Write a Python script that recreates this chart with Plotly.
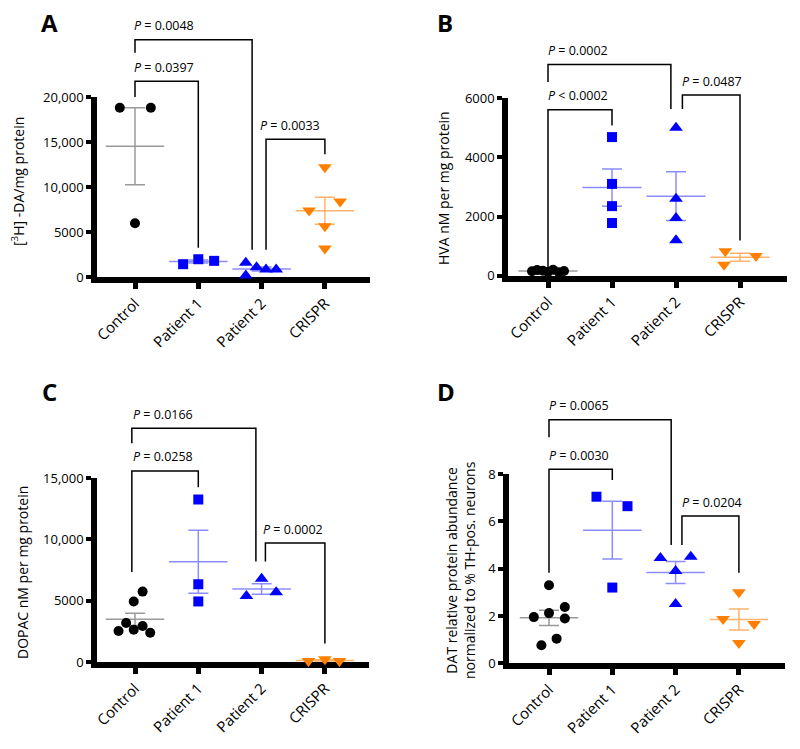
import numpy as np
import plotly.graph_objects as go

# ---------------- data ----------------
CATEGORIES = ["Control", "Patient 1", "Patient 2", "CRISPR"]

# Panel A: [3H]-DA uptake per mg protein
A_CONTROL = [18800, 18800, 6000]
A_PATIENT1 = [1450, 2000, 1820]
A_PATIENT2 = [1600, 200, 1100, 850, 850]
A_CRISPR = [12200, 8400, 7400, 5650, 3200]
A_YTICKS = [0, 5000, 10000, 15000, 20000]
A_YTICKTEXT = ["0", "5000", "10,000", "15,000", "20,000"]
A_PVALUES = ["<i>P</i> = 0.0397", "<i>P</i> = 0.0048", "<i>P</i> = 0.0033"]

# Panel B: HVA nM per mg protein
B_CONTROL = [150, 190, 170, 130, 200, 120, 160]
B_PATIENT1 = [4680, 3100, 2350, 1780]
B_PATIENT2 = [5000, 2600, 1950, 1200]
B_CRISPR = [830, 370, 670]
B_YTICKS = [0, 2000, 4000, 6000]
B_YTICKTEXT = ["0", "2000", "4000", "6000"]
B_PVALUES = ["<i>P</i> &lt; 0.0002", "<i>P</i> = 0.0002", "<i>P</i> = 0.0487"]

# Panel C: DOPAC nM per mg protein
C_CONTROL = [5750, 4950, 3200, 2550, 2650, 2950, 2400]
C_PATIENT1 = [13250, 6350, 4950]
C_PATIENT2 = [6800, 5400, 5700]
C_CRISPR = [100, 250, 100]
C_YTICKS = [0, 5000, 10000, 15000]
C_YTICKTEXT = ["0", "5000", "10,000", "15,000"]
C_PVALUES = ["<i>P</i> = 0.0258", "<i>P</i> = 0.0166", "<i>P</i> = 0.0002"]

# Panel D: DAT relative protein abundance
D_CONTROL = [3.30, 1.95, 2.12, 2.38, 1.89, 0.76, 1.04]
D_PATIENT1 = [7.04, 6.64, 3.20]
D_PATIENT2 = [4.45, 4.50, 3.90, 2.50]
D_CRISPR = [3.00, 1.87, 1.66, 0.86]
D_YTICKS = [0, 2, 4, 6, 8]
D_YTICKTEXT = ["0", "2", "4", "6", "8"]
D_PVALUES = ["<i>P</i> = 0.0030", "<i>P</i> = 0.0065", "<i>P</i> = 0.0204"]

# horizontal scatter (jitter) of the points, in category units
A_JITTER = [[-0.24, 0.25, 0.0], [-0.24, 0.0, 0.25],
            [-0.25, -0.25, -0.08, 0.07, 0.23], [0.0, 0.24, -0.25, 0.0, 0.0]]
B_JITTER = [[-0.25, -0.17, -0.08, 0.0, 0.08, 0.17, 0.25], [0, 0, 0, 0],
            [0, 0, 0, 0], [-0.23, -0.25, 0.25]]
C_JITTER = [[0.12, -0.02, -0.14, -0.26, -0.02, 0.12, 0.24], [0, 0, 0],
            [0.0, -0.24, 0.23], [-0.26, 0.0, 0.23]]
D_JITTER = [[0.0, -0.24, 0.0, 0.25, 0.25, -0.12, 0.12], [-0.25, 0.24, 0.0],
            [-0.24, 0.24, 0.0, 0.0], [0.0, -0.25, 0.24, 0.0]]

# significance brackets: (x left, x right, bar height, left-leg end, right-leg end, label dx)
A_BRACKETS = [(0.0, 1.0, 21750, 20000, 3280, -0.04),
              (0.0, 1.85, 26340, 24920, 3060, -0.04),
              (2.07, 3.0, 15300, 3060, 13660, -0.12)]
B_BRACKETS = [(0.0, 1.0, 5600, 230, 5070, -0.03),
              (0.0, 1.92, 7130, 6540, 5625, -0.03),
              (2.10, 3.0, 6100, 5625, 1190, -0.03)]
C_BRACKETS = [(-0.05, 1.0, 15580, 7355, 14250, -0.01),
              (-0.05, 1.91, 19060, 17830, 8200, -0.01),
              (2.06, 3.0, 9700, 8200, 1520, -0.07)]
D_BRACKETS = [(0.0, 1.0, 8.2, 3.83, 7.75, -0.03),
              (0.0, 1.93, 10.29, 9.55, 5.0, -0.03),
              (2.10, 3.0, 6.22, 5.0, 3.83, -0.03)]

# ---------------- style ----------------
W, H = 800, 749
FONT = "Open Sans"
SYMBOLS = ["circle", "square", "triangle-up", "triangle-down"]
SIZES = [10, 10, 12, 12]
COLORS = ["#000000", "#0000ff", "#0000ff", "#ff8000"]
ERR_COLORS = ["#9a9a9a", "#8c8cff", "#8c8cff", "#ffb26b"]
AXIS_LW = 5.5

# pixel layout of each panel: left, right, first category x, category step, top, zero line
SPEC_A = (97, 370, 135, 63.3, 97, 280)
SPEC_B = (508, 787, 548, 64.0, 98, 278.5)
SPEC_C = (97, 369, 135, 63.3, 478, 665)
SPEC_D = (509, 785, 549, 63.3, 474, 666)

fig = go.Figure()
layout = {}
shapes = []
annotations = []


def add_panel(n, groups, jitters, brackets, pvalues, yticks, yticktext, spec):
    xa = "x" if n == 1 else f"x{n}"
    ya = "y" if n == 1 else f"y{n}"
    left, right, cat0, step, top, zero = spec
    ytop = yticks[-1]
    bottom = zero - AXIS_LW / 2

    for i, (vals, jit) in enumerate(zip(groups, jitters)):
        v = np.asarray(vals, dtype=float)
        mean = v.mean()
        sem = v.std(ddof=1) / np.sqrt(len(v))
        fig.add_trace(go.Scatter(
            x=[i], y=[mean], xaxis=xa, yaxis=ya, mode="markers",
            marker=dict(symbol="line-ew", size=0.66 * step, color=ERR_COLORS[i],
                        line=dict(width=1.5, color=ERR_COLORS[i])),
            error_y=dict(type="data", array=[sem], width=10, thickness=1.5,
                         color=ERR_COLORS[i]),
            cliponaxis=False, hoverinfo="skip", showlegend=False))
        fig.add_trace(go.Scatter(
            x=[i + j for j in jit], y=v, xaxis=xa, yaxis=ya, mode="markers",
            marker=dict(symbol=SYMBOLS[i], size=SIZES[i], color=COLORS[i],
                        line=dict(width=0)),
            cliponaxis=False, name=CATEGORIES[i], showlegend=False))

    # brackets: x in category units, y as a fraction of the axis (0 .. top tick)
    for (x1, x2, yb, yl, yr, ldx), lab in zip(brackets, pvalues):
        path = (f"M {x1},{yl / ytop} L {x1},{yb / ytop} "
                f"L {x2},{yb / ytop} L {x2},{yr / ytop}")
        shapes.append(dict(type="path", path=path, xref=xa, yref=f"{ya} domain",
                           line=dict(color="black", width=1.5), layer="above"))
        annotations.append(dict(text=lab, xref=xa, yref=f"{ya} domain",
                                x=x1 + ldx, y=yb / ytop, xanchor="left",
                                yanchor="middle", yshift=14, showarrow=False,
                                font=dict(family=FONT, size=12.5, color="black")))

    layout["xaxis" if n == 1 else f"xaxis{n}"] = dict(
        domain=[left / W, right / W], anchor=ya, automargin=False,
        range=[-(cat0 - left) / step, (right - cat0) / step],
        tickmode="array", tickvals=[0, 1, 2, 3], ticktext=CATEGORIES,
        tickangle=-45, tickfont=dict(family=FONT, size=15, color="black"),
        showline=True, linewidth=AXIS_LW, linecolor="black",
        ticks="outside", ticklen=6, tickwidth=5, tickcolor="black",
        showgrid=False, zeroline=False, layer="below traces", fixedrange=True)
    layout["yaxis" if n == 1 else f"yaxis{n}"] = dict(
        domain=[1 - bottom / H, 1 - top / H], anchor=xa, automargin=False,
        range=[0, ytop], tickmode="array", tickvals=yticks, ticktext=yticktext,
        tickfont=dict(family=FONT, size=13, color="black"),
        showline=True, linewidth=AXIS_LW, linecolor="black",
        ticks="outside", ticklen=5, tickwidth=4, tickcolor="black",
        showgrid=False, zeroline=False, layer="below traces", fixedrange=True)


add_panel(1, [A_CONTROL, A_PATIENT1, A_PATIENT2, A_CRISPR], A_JITTER, A_BRACKETS,
          A_PVALUES, A_YTICKS, A_YTICKTEXT, SPEC_A)
add_panel(2, [B_CONTROL, B_PATIENT1, B_PATIENT2, B_CRISPR], B_JITTER, B_BRACKETS,
          B_PVALUES, B_YTICKS, B_YTICKTEXT, SPEC_B)
add_panel(3, [C_CONTROL, C_PATIENT1, C_PATIENT2, C_CRISPR], C_JITTER, C_BRACKETS,
          C_PVALUES, C_YTICKS, C_YTICKTEXT, SPEC_C)
add_panel(4, [D_CONTROL, D_PATIENT1, D_PATIENT2, D_CRISPR], D_JITTER, D_BRACKETS,
          D_PVALUES, D_YTICKS, D_YTICKTEXT, SPEC_D)

for letter, px, py in [("A", 49, 22), ("B", 445, 22), ("C", 49, 392), ("D", 446, 392)]:
    annotations.append(dict(text=f"<b>{letter}</b>", x=px / W, y=1 - py / H,
                            xref="paper", yref="paper", showarrow=False,
                            xanchor="center", yanchor="middle",
                            font=dict(family=FONT, size=24, color="black")))

for title, px, py in [("[<sup>3</sup>H] -DA/mg protein", 18, 182),
                      ("HVA nM per mg protein", 443, 188),
                      ("DOPAC nM per mg protein", 22, 573),
                      ("DAT relative protein abundance<br>normalized to % TH-pos. neurons", 460, 570)]:
    annotations.append(dict(text=title, x=px / W, y=1 - py / H, xref="paper", yref="paper",
                            showarrow=False, textangle=-90, xanchor="center",
                            yanchor="middle",
                            font=dict(family=FONT, size=14, color="black")))

fig.update_layout(
    template="none",
    width=W, height=H, margin=dict(l=0, r=0, t=0, b=0, autoexpand=False),
    paper_bgcolor="white", plot_bgcolor="white", font=dict(family=FONT, color="black"),
    showlegend=False, hovermode=False, annotations=annotations, shapes=shapes, **layout)

fig.write_html("out.html", config={"displayModeBar": False},
               post_script="document.body.style.margin='0';")
